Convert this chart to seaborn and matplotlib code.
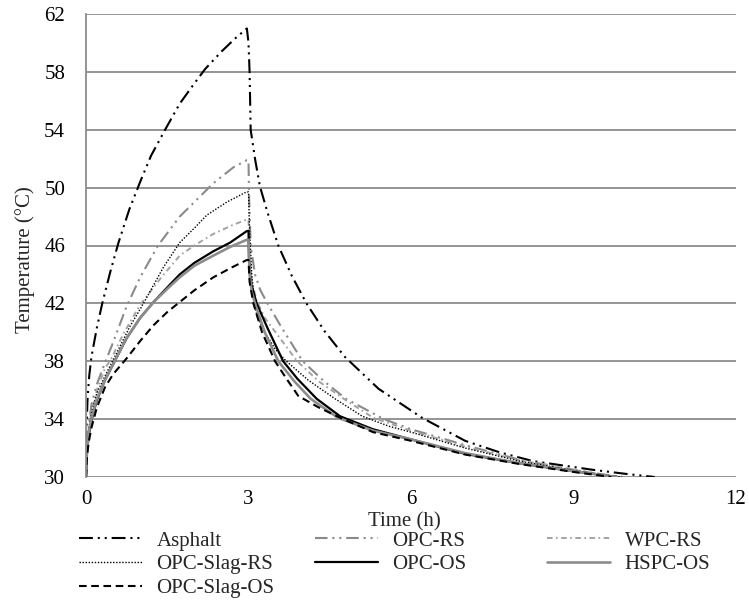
import numpy as np
import pandas as pd
import matplotlib
matplotlib.use("Agg")
import matplotlib.pyplot as plt
import seaborn as sns

# ---------------- data ----------------
series_names = ["Asphalt", "OPC-RS", "WPC-RS", "OPC-Slag-RS", "OPC-OS", "HSPC-OS", "OPC-Slag-OS"]

asphalt_t = [0, 0.01, 0.03, 0.06, 0.1, 0.2, 0.3, 0.45, 0.6, 0.8, 1.0, 1.2, 1.46, 1.73, 2.0, 2.2, 2.5, 2.75, 2.97,
             3.0, 3.02, 3.04, 3.12, 3.21, 3.35, 3.55, 3.8, 4.07, 4.4, 4.78, 5.4, 6.2, 7.0, 7.64, 8.25, 8.8, 9.35, 10.0, 10.5]
asphalt_T = [30, 33.5, 35.5, 37.0, 38.3, 40.3, 42.0, 44.2, 46.2, 48.5, 50.4, 52.2, 54.0, 55.8, 57.2, 58.2, 59.4, 60.3, 61.0,
             60.0, 58.0, 54.0, 52.0, 50.1, 48.3, 46.0, 43.9, 42.0, 40.1, 38.3, 36.1, 34.1, 32.5, 31.7, 31.1, 30.8, 30.5, 30.2, 30.0]

opcrs_t = [0, 0.02, 0.05, 0.1, 0.2, 0.32, 0.5, 0.75, 1.0, 1.33, 1.73, 2.0, 2.35, 2.72, 2.97,
           3.0, 3.01, 3.04, 3.12, 3.22, 3.35, 3.6, 4.0, 4.4, 4.8, 5.5, 6.0, 7.0, 8.0, 9.0, 9.5, 9.9]
opcrs_T = [30, 32.0, 33.5, 35.0, 36.4, 37.6, 39.3, 41.8, 43.8, 46.0, 48.0, 49.0, 50.3, 51.4, 51.9,
           51.9, 49.5, 46.0, 44.0, 42.9, 42.0, 40.4, 38.0, 36.6, 35.4, 34.0, 33.3, 32.2, 31.2, 30.5, 30.2, 30.0]

wpcrs_t = [0, 0.02, 0.05, 0.1, 0.2, 0.35, 0.47, 0.69, 1.0, 1.37, 1.73, 2.0, 2.35, 2.7, 2.97,
           3.0, 3.02, 3.06, 3.15, 3.3, 3.6, 3.9, 4.3, 4.8, 5.3, 6.0, 7.0, 8.0, 9.0, 9.5, 9.9]
wpcrs_T = [30, 32.0, 33.3, 34.5, 36.0, 37.5, 38.2, 39.9, 41.9, 43.7, 45.3, 46.0, 46.8, 47.4, 47.8,
           47.8, 45.5, 43.5, 42.2, 41.0, 39.5, 38.0, 36.6, 35.3, 34.1, 33.2, 32.1, 31.15, 30.5, 30.2, 30.0]

slagrs_t = [0, 0.02, 0.05, 0.1, 0.2, 0.38, 0.57, 0.81, 1.0, 1.12, 1.43, 1.73, 2.0, 2.23, 2.6, 2.96,
            3.0, 3.02, 3.06, 3.1, 3.15, 3.3, 3.5, 3.7, 4.1, 4.6, 5.1, 5.6, 6.0, 7.0, 8.0, 9.0, 9.6, 9.9]
slagrs_T = [30, 32.0, 33.2, 34.4, 35.8, 37.2, 38.6, 40.4, 41.6, 42.4, 44.5, 46.2, 47.2, 48.1, 49.0, 49.7,
            49.7, 47.0, 44.0, 42.5, 41.2, 40.0, 38.8, 38.0, 36.7, 35.4, 34.2, 33.5, 33.1, 32.0, 31.1, 30.45, 30.1, 30.0]

opcos_t = [0, 0.02, 0.05, 0.1, 0.2, 0.35, 0.57, 0.75, 1.0, 1.25, 1.5, 1.73, 2.0, 2.35, 2.66, 2.97,
           3.0, 3.01, 3.04, 3.15, 3.35, 3.64, 3.9, 4.26, 4.69, 5.3, 6.0, 7.0, 8.0, 9.0, 9.5, 9.8]
opcos_T = [30, 31.8, 32.8, 33.9, 35.3, 36.7, 38.3, 39.6, 41.0, 42.1, 43.1, 44.0, 44.8, 45.6, 46.2, 47.0,
           47.0, 45.0, 43.5, 42.0, 40.3, 38.0, 36.8, 35.4, 34.2, 33.3, 32.6, 31.6, 30.95, 30.4, 30.15, 30.0]

hspcos_t = [0, 0.02, 0.05, 0.1, 0.2, 0.35, 0.57, 0.75, 1.0, 1.25, 1.5, 1.73, 2.0, 2.35, 2.66, 2.97,
            3.0, 3.02, 3.06, 3.12, 3.3, 3.55, 3.85, 4.15, 4.65, 5.3, 6.0, 7.0, 8.0, 9.0, 9.5, 9.8]
hspcos_T = [30, 32.0, 33.0, 34.0, 35.4, 36.7, 38.3, 39.6, 41.0, 42.1, 43.0, 43.8, 44.6, 45.3, 45.9, 46.4,
            46.4, 44.0, 42.8, 42.0, 40.0, 38.0, 36.6, 35.4, 34.1, 33.2, 32.6, 31.65, 30.95, 30.4, 30.15, 30.0]

slagos_t = [0, 0.02, 0.05, 0.1, 0.2, 0.35, 0.5, 0.75, 1.0, 1.25, 1.5, 1.7, 2.0, 2.35, 2.7, 2.97,
            3.0, 3.02, 3.09, 3.25, 3.49, 3.7, 3.92, 4.3, 4.69, 5.3, 6.0, 7.0, 8.0, 9.0, 9.5, 9.7]
slagos_T = [30, 31.5, 32.4, 33.4, 34.8, 36.2, 37.1, 38.2, 39.4, 40.5, 41.4, 42.0, 42.9, 43.8, 44.5, 45.0,
            45.0, 43.5, 42.0, 40.0, 38.0, 36.8, 35.6, 34.8, 34.1, 33.1, 32.5, 31.55, 30.9, 30.35, 30.1, 30.0]

x_ticks = [0, 3, 6, 9, 12]
y_ticks = [30, 34, 38, 42, 46, 50, 54, 58, 62]

# ---------------- styling ----------------
sns.set_style("white")
plt.rcParams["font.family"] = ["Liberation Serif", "DejaVu Serif"]
plt.rcParams["lines.scale_dashes"] = False
FS = 15

data = {
    "Asphalt": (asphalt_t, asphalt_T),
    "OPC-RS": (opcrs_t, opcrs_T),
    "WPC-RS": (wpcrs_t, wpcrs_T),
    "OPC-Slag-RS": (slagrs_t, slagrs_T),
    "OPC-OS": (opcos_t, opcos_T),
    "HSPC-OS": (hspcos_t, hspcos_T),
    "OPC-Slag-OS": (slagos_t, slagos_T),
}
styles = {
    "Asphalt": dict(color="black", lw=1.5, dashes=(10, 3.5, 1.5, 3.5, 1.5, 3.5)),
    "OPC-RS": dict(color="#8a8a8a", lw=1.5, dashes=(9, 3.5, 1.5, 3.5, 1.5, 3.5)),
    "WPC-RS": dict(color="#a3a3a3", lw=1.4, dashes=(4, 2.5, 1.2, 2.5)),
    "OPC-Slag-RS": dict(color="black", lw=1.0, dashes=(1.0, 1.2)),
    "OPC-OS": dict(color="black", lw=1.6, dashes=None),
    "HSPC-OS": dict(color="#8c8c8c", lw=1.9, dashes=None),
    "OPC-Slag-OS": dict(color="black", lw=1.5, dashes=(5.5, 3.3)),
}

W, H = 749, 601
fig = plt.figure(figsize=(W / 100, H / 100), dpi=100)
ax = fig.add_axes([86 / W, 1 - 477 / H, 650 / W, 463 / H])

lines = {}
for name in series_names:
    t, T = data[name]
    st = styles[name]
    sns.lineplot(x=t, y=T, ax=ax, color=st["color"], lw=st["lw"], label=name,
                 estimator=None, sort=False)
    ln = ax.lines[-1]
    if st["dashes"] is not None:
        ln.set_dashes(st["dashes"])
    ln.set_dash_capstyle("butt")
    lines[name] = ln

if ax.legend_ is not None:
    ax.legend_.remove()

ax.set_xlim(0, 12)
ax.set_ylim(30, 62)
ax.set_xticks(x_ticks)
ax.set_yticks(y_ticks)
ax.set_xticklabels([str(v) for v in x_ticks], fontsize=FS)
ax.set_yticklabels([str(v) for v in y_ticks], fontsize=FS)
ax.tick_params(axis="both", length=0, colors="black")
ax.tick_params(axis="y", pad=15)
ax.tick_params(axis="x", pad=9)
ax.set_xlabel("")
ax.set_ylabel("")
ax.yaxis.grid(True, color="#8c8c8c", lw=1.3)
ax.xaxis.grid(False)
ax.set_axisbelow(True)
for s in ["top", "right", "bottom"]:
    ax.spines[s].set_visible(False)
ax.spines["left"].set_color("#8c8c8c")
ax.spines["left"].set_linewidth(1.3)

fig.text(25 / W, 1 - 260 / H, "Temperature (°C)", rotation=90, ha="center", va="center", fontsize=FS)
fig.text(404 / W, 1 - 522 / H, "Time (h)", ha="center", va="center", fontsize=FS)

cols = [["Asphalt", "OPC-Slag-RS", "OPC-Slag-OS"], ["OPC-RS", "OPC-OS"], ["WPC-RS", "HSPC-OS"]]
col_x = [79, 315, 547]
for names, cx in zip(cols, col_x):
    fig.legend([lines[n] for n in names], names, loc="upper left",
               bbox_to_anchor=(cx / W, 1 - 531 / H), frameon=False, fontsize=FS,
               borderpad=0, borderaxespad=0, handlelength=3.0, handletextpad=0.72,
               labelspacing=0.2)

fig.savefig("out.png", dpi=100)
